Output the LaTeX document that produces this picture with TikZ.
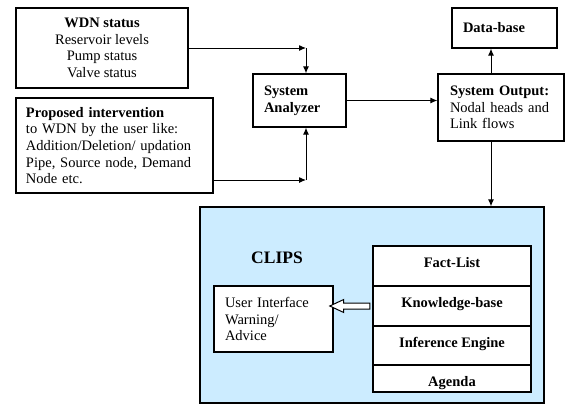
\documentclass[tikz,border=0pt]{standalone}
\usepackage{fontspec}
\setmainfont{Liberation Serif}[BoldFont={Liberation Serif Bold},ItalicFont={Liberation Serif Italic}]
\usepackage{tikz}
\usetikzlibrary{shapes,arrows.meta,positioning,calc}
\definecolor{clipsblue}{RGB}{204,236,255}

\begin{document}
\begin{tikzpicture}[x=1pt,y=-1pt]
\tikzstyle{box}=[rectangle, draw=black, line width=1.2pt, inner sep=0pt, font=\fontsize{14.5}{16.7}\selectfont]
\tikzstyle{txtbox}=[box, align=left]
\tikzstyle{cell}=[box, fill=white, minimum width=158pt, text height=21pt, font=\fontsize{14.5}{16.7}\selectfont\bfseries]
\tikzstyle{connect}=[-{Latex[length=7pt,width=6pt]}, line width=1pt]
\tikzstyle{hollow}=[single arrow, draw=black, fill=white, line width=1pt, minimum height=40pt, inner xsep=0pt, inner ysep=2.5pt, text height=0pt, text depth=0pt, single arrow head extend=3.5pt, single arrow tip angle=50, shape border rotate=180]
\useasboundingbox (0,0) rectangle (566,407);
	% inputs
	\node[box, align=center, minimum width=172pt, minimum height=80pt] (wdn) at (102,48) {\textbf{WDN status}\\Reservoir levels\\Pump status\\Valve status};
	\node[txtbox, minimum height=95pt, text width=177pt, inner xsep=10pt] (prop) at (114.5,145.5) {\textbf{Proposed intervention}\\to WDN by the user like:\\Addition/Deletion/ updation\\Pipe, Source node, Demand\\Node etc.};
	\node[txtbox, font=\fontsize{14.5}{16.7}\selectfont\bfseries, minimum height=53pt, text width=71pt, inner xsep=11pt] (ana) at (299.5,100.5) {System\\Analyzer};
	\node[txtbox, minimum height=67pt, text width=102pt, inner xsep=12pt] (out) at (501,107.5) {\textbf{System Output:}\\Nodal heads and\\Link flows};
	\node[txtbox, font=\fontsize{14.5}{16.7}\selectfont\bfseries, minimum height=40pt, text width=83pt, inner xsep=11pt] (db) at (504.5,28) {Data-base};
	% expert system
	\node[box, fill=clipsblue, minimum width=344pt, minimum height=196pt] (clips) at (372,305) {};
	\node[font=\fontsize{17.5}{20}\selectfont\bfseries] (clipslbl) at (277,258) {CLIPS};
	\node[cell, minimum height=40pt, text depth=19pt] (fact) at (452,266) {Fact-List};
	\node[cell, minimum height=40pt, text depth=19pt] (kb) at (452,306) {Knowledge-base};
	\node[cell, minimum height=39pt, text depth=18pt] (ie) at (452,345.5) {Inference Engine};
	\node[cell, minimum height=27pt, text depth=6pt] (ag) at (452,378.5) {Agenda};
	\node[txtbox, fill=white, minimum height=66pt, text width=97pt, inner xsep=11pt] (ui) at (273.5,319) {User Interface\\Warning/\\Advice};
	\node[hollow] (uiarrow) at ($(ui.east |- kb.west)!0.5!(kb.west)$) {};

	\coordinate (inA) at (306,48);
	\coordinate (inB) at (306,180);
	\coordinate (outx) at (491,0);
	\draw[connect] (wdn.east) -- (inA);
	\draw[connect] (inA) -- (inA |- ana.north);
	\draw[connect] (prop.east |- inB) -- (inB);
	\draw[connect] (inB) -- (inB |- ana.south);
	\draw[connect] (ana.east) -- (ana.east -| out.west);
	\draw[connect] (out.north -| outx) -- (db.south -| outx);
	\draw[connect] (out.south -| outx) -- (clips.north -| outx);
\end{tikzpicture}
\end{document}
